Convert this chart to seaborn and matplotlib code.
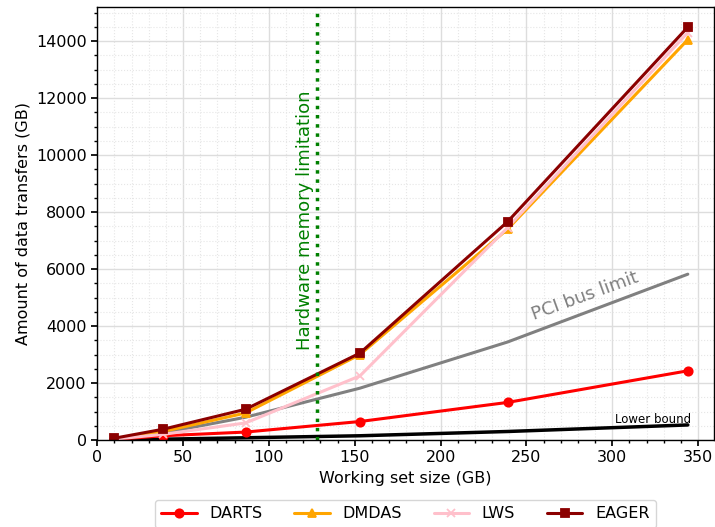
import numpy as np
import pandas as pd
import matplotlib.pyplot as plt
import seaborn as sns
from matplotlib.ticker import MultipleLocator

# Working set sizes (GB)
working_set = [9.6, 38.4, 86.4, 153.0, 239.0, 344.0]

# Data transfers (GB) per scheduler
darts = [20, 150, 280, 650, 1320, 2430]
dmdas = [40, 300, 950, 3000, 7400, 14050]
lws = [30, 200, 600, 2250, 7450, 14300]
eager = [60, 380, 1080, 3050, 7660, 14490]

# Reference curves
pci_bus_limit = [0, 250, 800, 1820, 3440, 5820]
lower_bound = [5, 30, 80, 150, 300, 530]

memory_limit = 128

sns.set_theme(style="whitegrid")
plt.rcParams['font.family'] = ['DejaVu Sans']
plt.rcParams['text.color'] = 'black'
plt.rcParams['axes.labelcolor'] = 'black'
plt.rcParams['xtick.color'] = 'black'
plt.rcParams['ytick.color'] = 'black'

fig, ax = plt.subplots(figsize=(7.15, 5.27), dpi=100)
fig.subplots_adjust(left=0.136, right=0.998, top=0.987, bottom=0.165)

series = [
    ("DARTS", darts, "red", "o"),
    ("DMDAS", dmdas, "orange", "^"),
    ("LWS", lws, "pink", "x"),
    ("EAGER", eager, "darkred", "s"),
]

sns.lineplot(x=working_set, y=pci_bus_limit, color="gray", linewidth=2.2, ax=ax)
sns.lineplot(x=working_set, y=lower_bound, color="black", linewidth=2.5, ax=ax)

for name, vals, col, mk in series:
    sns.lineplot(x=working_set, y=vals, color=col, marker=mk, markersize=6,
                 markeredgecolor=col, markeredgewidth=1.3, linewidth=2.2,
                 label=name, ax=ax)

ax.axvline(memory_limit, color="green", linestyle=":", linewidth=2.5)
ax.text(memory_limit - 7, 7700, "Hardware memory limitation", rotation=90,
        color="green", fontsize=13, ha="center", va="center")
ax.text(284, 5050, "PCI bus limit", rotation=20, color="gray", fontsize=13,
        ha="center", va="center")
ax.text(324, 720, "Lower bound", color="black", fontsize=8.5,
        ha="center", va="center")

ax.set_xlim(0, 359)
ax.set_ylim(0, 15200)
ax.xaxis.set_major_locator(MultipleLocator(50))
ax.xaxis.set_minor_locator(MultipleLocator(10))
ax.yaxis.set_major_locator(MultipleLocator(2000))
ax.yaxis.set_minor_locator(MultipleLocator(500))
ax.grid(which="major", color="#dddddd", linewidth=1)
ax.grid(which="minor", color="#e6e6e6", linestyle=":", linewidth=0.8)
ax.tick_params(which="both", direction="out", length=4, bottom=True, left=True,
               labelsize=11.5)
ax.tick_params(which="minor", length=2.5)

for s in ax.spines.values():
    s.set_color("black")
    s.set_linewidth(1)

ax.set_xlabel("Working set size (GB)", fontsize=11.5)
ax.set_ylabel("Amount of data transfers (GB)", fontsize=11.5)

ax.legend(loc="upper center", bbox_to_anchor=(0.5, -0.12), ncol=4,
          fontsize=11.5, frameon=True, edgecolor="#cccccc", handlelength=2.2,
          columnspacing=2.0)

plt.savefig("out.png", dpi=100)
